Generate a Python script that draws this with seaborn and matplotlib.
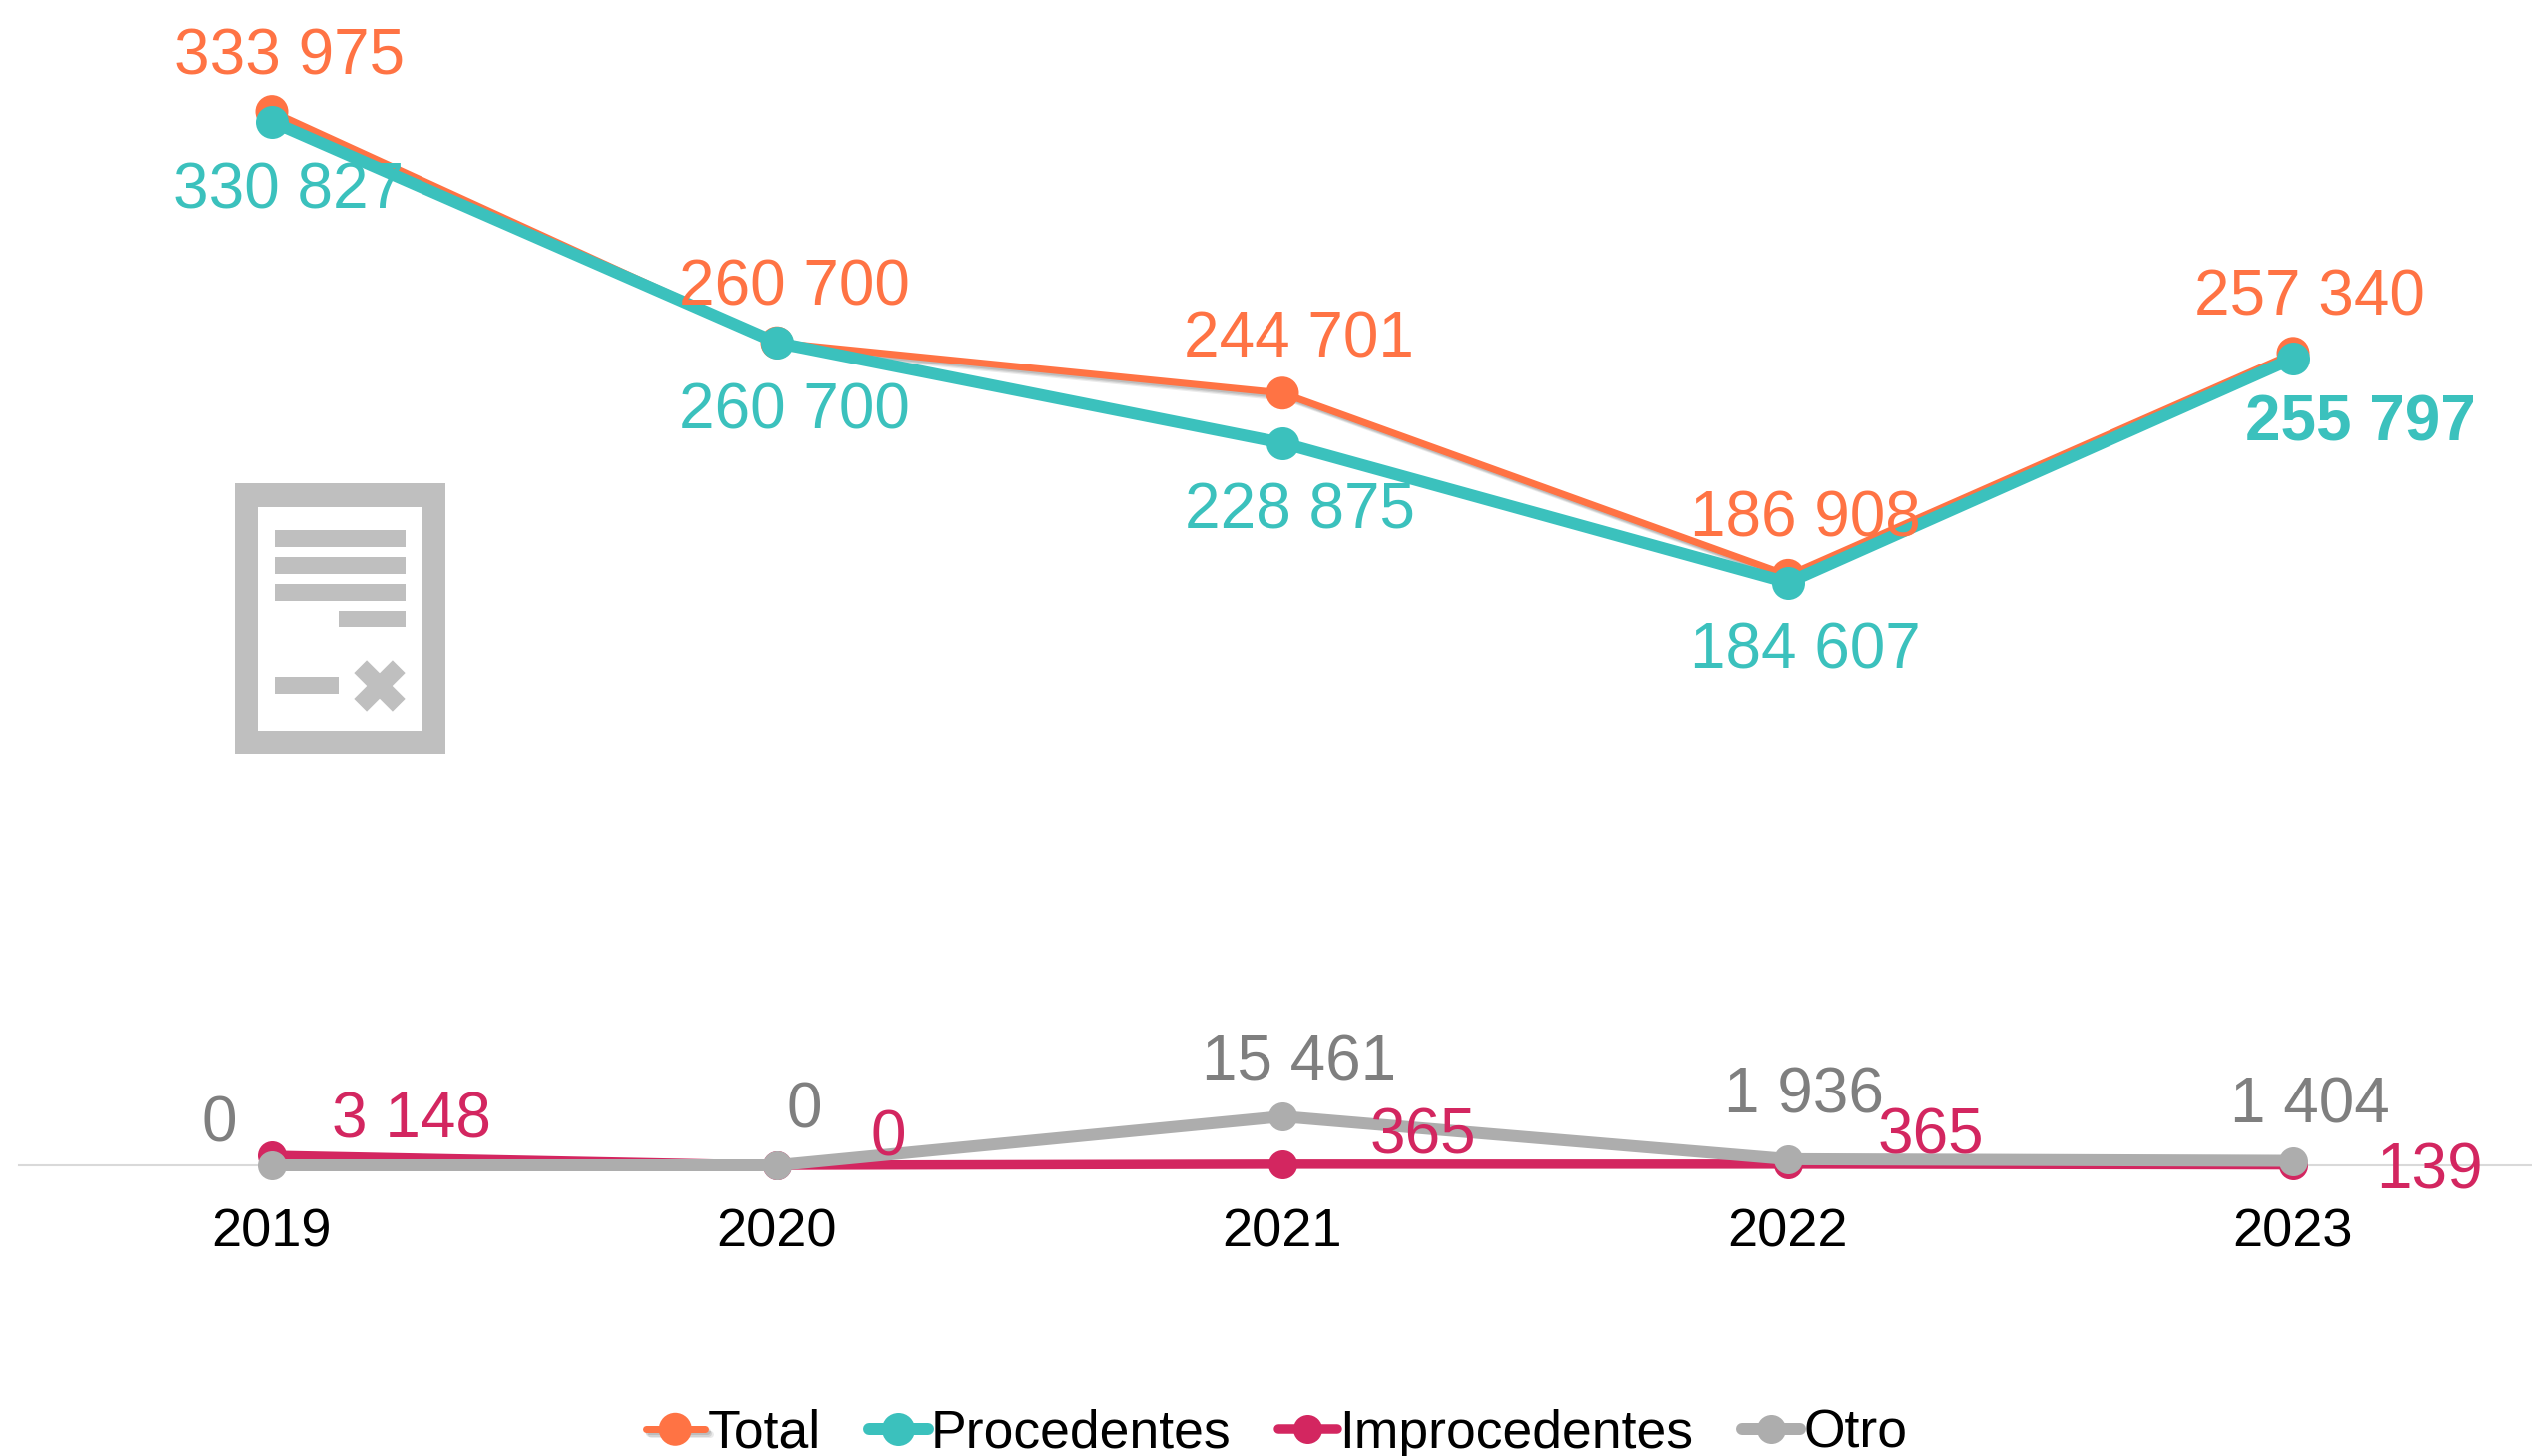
import matplotlib
matplotlib.use('Agg')
import matplotlib.pyplot as plt
import matplotlib.patheffects as pe
from matplotlib.lines import Line2D
from matplotlib.patches import Rectangle
from matplotlib.transforms import IdentityTransform
import pandas as pd
import seaborn as sns

# Datos
anios = ['2019', '2020', '2021', '2022', '2023']
total = [333975, 260700, 244701, 186908, 257340]
procedentes = [330827, 260700, 228875, 184607, 255797]
improcedentes = [3148, 0, 365, 365, 139]
otro = [0, 0, 15461, 1936, 1404]

W, H = 2535, 1458
EJE_Y = 1167  # pixel de la linea del eje
ESCALA = 0.00316  # pixeles por unidad

sns.set_theme(style='white')
plt.rcParams['font.family'] = ['Liberation Sans', 'DejaVu Sans']

fig = plt.figure(figsize=(W / 100, H / 100), dpi=100, facecolor='white')
ax = fig.add_axes([19 / W, 0, 1 - 19 / W, 1])

sombra = [
    pe.SimpleLineShadow(offset=(1.5, -1.5), shadow_color='black', alpha=0.10),
    pe.SimpleLineShadow(offset=(2.5, -2.5), shadow_color='black', alpha=0.10),
    pe.SimpleLineShadow(offset=(3.5, -3.5), shadow_color='black', alpha=0.08),
    pe.Normal(),
]

# nombre, valores, color, ancho linea (px), marcador (px), color etiqueta
series = [
    ('Total', total, '#FF7344', 7, 33, '#FF7344'),
    ('Procedentes', procedentes, '#3BC1BD', 12, 33, '#3BC1BD'),
    ('Improcedentes', improcedentes, '#D32660', 9.5, 29, '#D32660'),
    ('Otro', otro, '#ADADAD', 12, 29, '#7F7F7F'),
]

# desplazamiento de cada etiqueta respecto a su punto, en pixeles
desp_x = {
    'Total': [17, 17, 16, 17, 16],
    'Procedentes': [17, 17, 17, 17, 67],
    'Improcedentes': [140, 111, 141, 143, 136],
    'Otro': [-53, 27, 17, 16, 17],
}
desp_y = {
    'Total': [37, 38, 36, 39, 38],
    'Procedentes': [-87, -86, -86, -86, -83],
    'Improcedentes': [18, 10, 10, 10, -24],
    'Otro': [24, 37, 37, 46, 38],
}

for i, (nombre, valores, color, lw, ms, color_txt) in enumerate(series):
    df = pd.DataFrame({'anio': anios, 'valor': valores})
    sns.lineplot(data=df, x='anio', y='valor', ax=ax, color=color, marker='o',
                 linewidth=lw * 0.72, markersize=ms * 0.72, markeredgewidth=0,
                 label=nombre, errorbar=None, sort=False, zorder=3 + i)
    if nombre == 'Total':
        ax.lines[-1].set_path_effects(sombra)
    for j, v in enumerate(valores):
        bold = nombre == 'Procedentes' and anios[j] == '2023'
        ax.annotate(f'{v:,}'.replace(',', ' '), (j, v),
                    xytext=(desp_x[nombre][j], desp_y[nombre][j]),
                    textcoords='offset pixels', ha='center', va='baseline',
                    fontsize=46, color=color_txt, zorder=10,
                    fontweight='bold' if bold else 'normal')

ax.set_xlim(-0.5, (W - 272) / 506)
ax.set_ylim(-(H - EJE_Y) / ESCALA, EJE_Y / ESCALA)
ax.set_xlabel('')
ax.set_ylabel('')
ax.set_yticks([])
ax.set_facecolor('none')
for lado in ['top', 'left', 'right']:
    ax.spines[lado].set_visible(False)
ax.spines['bottom'].set_position(('data', 0))
ax.spines['bottom'].set_color('#D9D9D9')
ax.spines['bottom'].set_linewidth(1.5)
ax.tick_params(axis='x', length=0, pad=30.5, labelsize=39, labelcolor='black')

handles, labels = ax.get_legend_handles_labels()
ax.legend(handles, labels, ncol=4, loc='center',
          bbox_to_anchor=(1278 / W, 1 - 1436 / H), bbox_transform=fig.transFigure,
          frameon=False, fontsize=38.5, handlelength=1.1, handletextpad=0.05,
          columnspacing=0.9, borderpad=0, borderaxespad=0, labelcolor='black')

# Icono del documento (coordenadas en pixeles de la imagen)
GRIS_ICONO = '#BFBFBF'


def rect(x0, y0, x1, y1, color=GRIS_ICONO):
    fig.add_artist(Rectangle((x0, H - y1), x1 - x0, y1 - y0, facecolor=color,
                             edgecolor='none', transform=IdentityTransform()))


rect(235, 484, 446, 755)
rect(258, 508, 422, 732, 'white')
rect(275, 531, 406, 548)
rect(275, 558, 406, 575)
rect(275, 585, 406, 602)
rect(339, 612, 406, 628)
rect(275, 678, 339, 695)
cx, cy = 380, H - 687
for sx in (-19.3, 19.3):
    fig.add_artist(Line2D([cx - sx, cx + sx], [cy - 19.3, cy + 19.3], color=GRIS_ICONO,
                          linewidth=18 * 0.72, solid_capstyle='butt',
                          transform=IdentityTransform()))

fig.savefig('out.png', dpi=100, facecolor='white')
